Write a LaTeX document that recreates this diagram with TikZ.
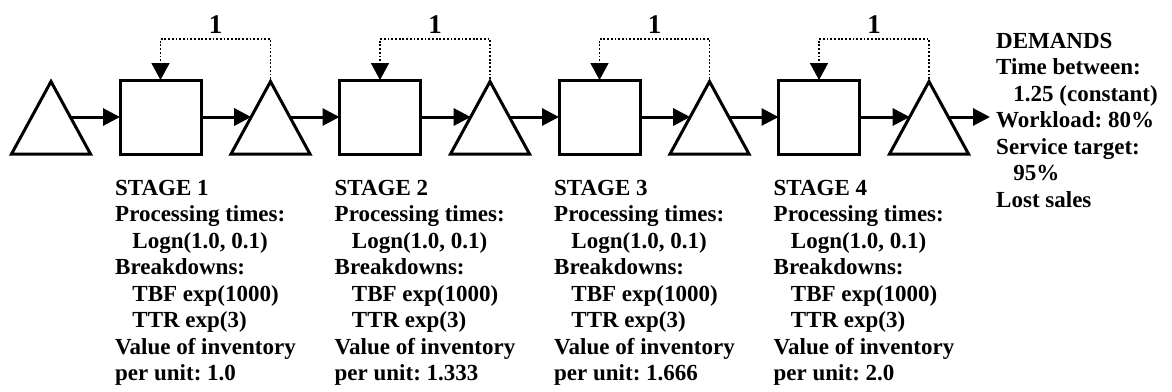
\documentclass[tikz,border=0pt]{standalone}
\usepackage{fontspec}
\setmainfont{Liberation Serif}
\usetikzlibrary{arrows.meta}
\begin{document}
\begin{tikzpicture}[x=1pt,y=-1pt,
  box/.style={draw, line width=3pt, minimum width=81pt, minimum height=74pt, inner sep=0pt, outer sep=0pt},
  tri/.style={draw, line width=3pt, line join=miter},
  flow/.style={line width=3pt, -{Triangle[length=17pt,width=17pt]}},
  fb/.style={line width=1.8pt, dash pattern=on 1.8pt off 1.9pt, -{Triangle[length=17pt,width=18pt]}},
  info/.style={align=left, anchor=base west, inner sep=0pt, font=\fontsize{23}{26.5}\selectfont\bfseries\frenchspacing},
  lbl/.style={font=\fontsize{27}{30}\selectfont\bfseries, anchor=base, inner sep=0pt}]
\useasboundingbox (0,0) rectangle (1172,391);

% triangles (buffers)
\foreach \i in {0,...,4}{
  \pgfmathsetmacro{\cx}{51+219.5*\i}
  \draw[tri] (\cx-39.5,154) -- (\cx,81.5) -- (\cx+39.5,154) -- cycle;
  \coordinate (tin\i) at (\cx-19.3,117);
  \coordinate (tout\i) at (\cx+19.3,117);
  \coordinate (tapex\i) at (\cx,79);
}

% squares (machines)
\foreach \j in {0,...,3}{
  \pgfmathsetmacro{\sx}{160.5+219.5*\j}
  \node[box] (s\j) at (\sx,117) {};
}

\coordinate (dem) at (990,117);

% flow arrows
\foreach \j [evaluate=\j as \k using int(\j+1)] in {0,...,3}{
  \draw[flow] (tout\j) -- (s\j.west);
  \draw[flow] (s\j.east) -- (tin\k);
  \draw[fb] (tapex\k) -- ++(0,-40) -| (s\j.north);
  \pgfmathsetmacro{\lx}{215.5+219.5*\j}
  \node[lbl] (one\j) at (\lx,33) {1};
}
\draw[flow] (tout4) -- (dem);

% stage descriptions (anchored at the baseline of the last line)
\node[info] (st1) at (115,380.5) {STAGE 1\\Processing times:\\\hspace*{0.75em}Logn(1.0, 0.1)\\Breakdowns:\\\hspace*{0.75em}TBF exp(1000)\\\hspace*{0.75em}TTR exp(3)\\Value of inventory\\per unit: 1.0};
\node[info] (st2) at (334.5,380.5) {STAGE 2\\Processing times:\\\hspace*{0.75em}Logn(1.0, 0.1)\\Breakdowns:\\\hspace*{0.75em}TBF exp(1000)\\\hspace*{0.75em}TTR exp(3)\\Value of inventory\\per unit: 1.333};
\node[info] (st3) at (554,380.5) {STAGE 3\\Processing times:\\\hspace*{0.75em}Logn(1.0, 0.1)\\Breakdowns:\\\hspace*{0.75em}TBF exp(1000)\\\hspace*{0.75em}TTR exp(3)\\Value of inventory\\per unit: 1.666};
\node[info] (st4) at (773.5,380.5) {STAGE 4\\Processing times:\\\hspace*{0.75em}Logn(1.0, 0.1)\\Breakdowns:\\\hspace*{0.75em}TBF exp(1000)\\\hspace*{0.75em}TTR exp(3)\\Value of inventory\\per unit: 2.0};

% demands
\node[info] (dm) at (996,207) {DEMANDS\\Time between:\\\hspace*{0.75em}1.25 (constant)\\Workload: 80\%\\Service target:\\\hspace*{0.75em}95\%\\Lost sales};
\end{tikzpicture}
\end{document}
